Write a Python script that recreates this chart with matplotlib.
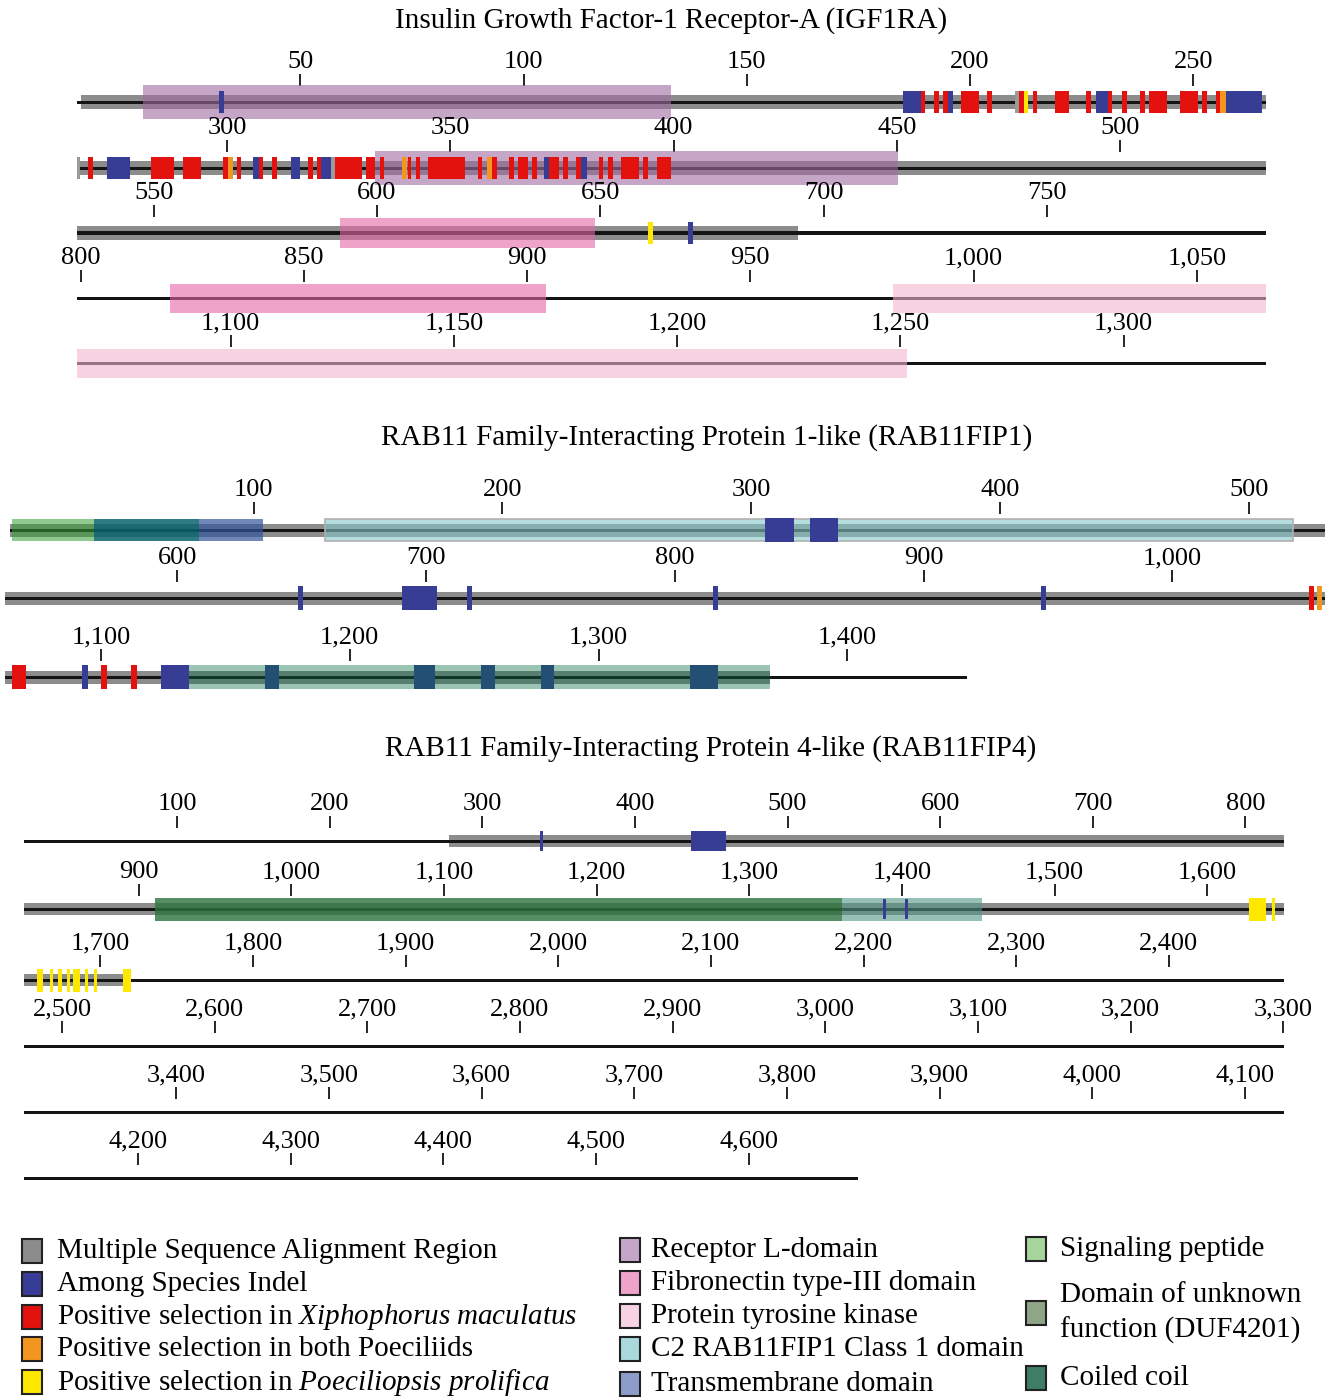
import numpy as np
import matplotlib
matplotlib.use("Agg")
import matplotlib.pyplot as plt
from matplotlib.patches import Rectangle
from matplotlib.colors import to_rgb
from matplotlib.ticker import FuncFormatter

plt.rcParams['font.family'] = 'Liberation Serif'
plt.rcParams['mathtext.fontset'] = 'custom'
plt.rcParams['mathtext.rm'] = 'Liberation Serif'
plt.rcParams['mathtext.it'] = 'Liberation Serif:italic'

W, H = 1335, 1400

# site / region colours
GRAY = '#8c8c8c'
BLUE = '#373c95'
RED = '#e3120f'
ORANGE = '#f3961f'
YELLOW = '#ffe800'
LINE = '#141414'

# ---- IGF1RA (residue intervals) ----
igf_length = 1332
igf_msa = [(1.0, 694.3)]
igf_receptor_l = [(14.8, 133.0), (333.1, 450.3)]
igf_fibronectin = [(591.7, 648.8), (820.0, 904.2)]
igf_kinase = [(982.0, 1251.5)]
igf_msa_marks = [(266.2, 267.1), (210.0, 211.0), (323.2, 324.2)]
igf_indel = [(31.8, 32.9), (185.1, 189.0), (195.1, 196.2), (228.2, 231.0), (257.3, 265.3),
             (273.2, 278.3), (305.9, 307.2), (314.3, 316.3), (321.0, 323.2), (371.0, 372.2),
             (379.3, 380.6), (669.6, 670.8)]
igf_xmac = [(189.0, 190.0), (191.9, 193.1), (194.0, 195.1), (197.9, 202.1), (203.9, 205.0),
            (211.0, 212.1), (214.0, 215.1), (219.0, 222.2), (226.0, 227.1), (231.0, 231.9),
            (234.0, 235.1), (238.1, 239.2), (240.0, 244.2), (247.0, 251.1), (252.0, 253.1),
            (255.0, 256.1), (268.9, 270.0), (283.0, 288.1), (290.1, 294.1), (299.0, 300.2),
            (302.2, 303.1), (307.2, 308.1), (310.0, 311.1), (318.1, 319.2), (320.1, 321.0),
            (324.2, 330.2), (331.1, 333.1), (334.3, 335.2), (340.5, 341.2), (342.3, 343.2),
            (345.1, 353.3), (356.1, 357.2), (359.4, 360.4), (363.2, 364.3), (365.2, 367.3),
            (368.2, 369.4), (372.2, 374.4), (375.3, 376.3), (378.2, 379.3), (383.3, 384.3),
            (385.3, 386.4), (388.2, 392.3), (393.1, 394.2), (396.2, 399.4)]
igf_both = [(256.1, 257.3), (300.2, 301.3), (339.3, 340.4), (358.3, 359.4)]
igf_ppro = [(212.1, 213.1), (660.7, 661.8)]

# ---- RAB11FIP1 ----
fip1_length = 1448
fip1_line_start = 2
fip1_msa = [(2.0, 1369.0)]
fip1_signal = [(2.9, 35.9)]
fip1_overlap = [(35.9, 78.1)]
fip1_transmembrane = [(78.1, 103.8)]
fip1_c2 = [(128.6, 517.8)]
fip1_coiled = [(1135.5, 1369.0)]
fip1_indel = [(305.5, 317.0), (323.6, 335.0), (648.5, 650.5), (690.3, 704.4), (716.4, 718.4),
              (815.3, 817.3), (947.2, 949.2), (1092.2, 1094.6), (1124.1, 1135.5),
              (1165.9, 1171.5), (1226.0, 1234.3), (1252.8, 1258.4), (1276.9, 1282.1),
              (1336.8, 1348.2)]
fip1_xmac = [(1054.9, 1056.9), (1064.3, 1069.7), (1100.0, 1102.5), (1112.1, 1114.6)]
fip1_both = [(1058.0, 1060.0)]

# ---- RAB11FIP4 ----
fip4_length = 4671.6
fip4_msa = [(278.2, 1718.3)]
fip4_coiled = [(910.7, 1360.7)]
fip4_duf = [(1360.7, 1452.4)]
fip4_indel = [(337.8, 339.8), (436.7, 459.6), (1387.5, 1389.5), (1401.9, 1403.9)]
fip4_ppro = [(1627.6, 1638.5), (1642.5, 1644.6), (1658.3, 1662.7), (1667.0, 1668.8),
             (1672.5, 1674.7), (1678.0, 1680.1), (1682.3, 1686.7), (1690.0, 1692.2),
             (1695.9, 1698.0), (1714.7, 1719.9)]

fig = plt.figure(figsize=(W / 100, H / 100), dpi=100)


# box colour that looks like `hexc` over white when drawn with alpha a
def through(hexc, a):
    rgb = np.array(to_rgb(hexc))
    return tuple(np.clip((rgb - (1 - a)) / a, 0, 1)) + (a,)


def make_rows(x0, ppr, row_len, row_y, off, length, step):
    rows = []
    for i, yc in enumerate(row_y):
        rs, re = i * row_len, (i + 1) * row_len
        ax = fig.add_axes([x0 / W, 1 - (yc + off) / H, row_len * ppr / W, 2 * off / H])
        ax.set_xlim(rs, re)
        ax.set_ylim(-off, off)
        ticks = np.arange(step, length + 1, step)
        ax.set_xticks(ticks[(ticks > rs) & (ticks <= re)])
        ax.xaxis.set_major_formatter(FuncFormatter(lambda v, p: f'{int(round(v)):,}'))
        ax.xaxis.tick_top()
        ax.tick_params(axis='x', length=8.5, width=1.2, pad=0.5, labelsize=19)
        ax.set_yticks([])
        for s in ax.spines.values():
            s.set_visible(False)
        ax.patch.set_visible(False)
        rows.append((ax, rs, re))
    return rows


def spans(rows, ivs, h, fc, z, ec='none', lw=0):
    for s, e in ivs:
        for ax, rs, re in rows:
            a, b = max(s, rs), min(e, re)
            if b > a:
                ax.add_patch(Rectangle((a, -h / 2), b - a, h, facecolor=fc, edgecolor=ec,
                                       lw=lw, zorder=z, clip_on=False))


# ---------- IGF1RA ----------
fig.text(671 / W, 1 - 21 / H, 'Insulin Growth Factor-1 Receptor-A (IGF1RA)',
         ha='center', va='center', fontsize=21)
rows = make_rows(77, 4.465, 266.4, [102, 168, 233, 298, 363], 16, igf_length, 50)
spans(rows, igf_msa, 14, GRAY, 1)
spans(rows, [(0, igf_length)], 3, LINE, 2)
spans(rows, igf_receptor_l, 34, through('#c6a6c8', 0.6), 3)
spans(rows, igf_fibronectin, 29, through('#f0a3c9', 0.6), 3)
spans(rows, igf_kinase, 29, through('#f7d3e1', 0.6), 3)
spans(rows, igf_msa_marks, 22, '#9a9a9a', 4)
spans(rows, igf_indel, 22, BLUE, 4)
spans(rows, igf_xmac, 22, RED, 4)
spans(rows, igf_both, 22, ORANGE, 4)
spans(rows, igf_ppro, 22, YELLOW, 4)

# ---------- RAB11FIP1 ----------
fig.text(707 / W, 1 - 438 / H, 'RAB11 Family-Interacting Protein 1-like (RAB11FIP1)',
         ha='center', va='center', fontsize=21)
rows = make_rows(5, 2.4875, 530.7, [530, 598, 677], 16, fip1_length, 100)
spans(rows, fip1_msa, 13, GRAY, 1)
spans(rows, [(fip1_line_start, fip1_length)], 3, LINE, 2)
spans(rows, fip1_signal, 22, through('#8fc98d', 0.55), 3)
spans(rows, fip1_overlap, 22, through('#2e7b83', 0.85), 3)
spans(rows, fip1_transmembrane, 22, through('#7087b9', 0.7), 3)
spans(rows, fip1_c2, 22, through('#b6dcde', 0.6), 3, ec='#b0b0b0', lw=1.2)
spans(rows, fip1_indel, 24, BLUE, 4)
spans(rows, fip1_xmac, 24, RED, 4)
spans(rows, fip1_both, 24, ORANGE, 4)
spans(rows, fip1_coiled, 23, through('#9bc4b5', 0.4), 5)

# ---------- RAB11FIP4 ----------
fig.text(711 / W, 1 - 749 / H, 'RAB11 Family-Interacting Protein 4-like (RAB11FIP4)',
         ha='center', va='center', fontsize=21)
rows = make_rows(24.3, 1.5265, 825.1, [841, 909, 980, 1046, 1112, 1178], 13, fip4_length, 100)
spans(rows, fip4_msa, 12, GRAY, 1)
spans(rows, [(0, fip4_length)], 3, LINE, 2)
spans(rows, fip4_coiled, 23, through('#558e64', 0.8), 3)
spans(rows, fip4_duf, 23, through('#96c0b6', 0.6), 3)
spans(rows, fip4_indel, 20, BLUE, 4)
spans(rows, fip4_ppro, 23, YELLOW, 4)

# ---------- legend ----------
leg = fig.add_axes([0, 0, 1, 1])
leg.set_xlim(0, W)
leg.set_ylim(H, 0)
leg.axis('off')

legend_cols = [
    (22, 57, [(1251, GRAY, 'Multiple Sequence Alignment Region'),
              (1284, BLUE, 'Among Species Indel'),
              (1317, RED, r'Positive selection in $\mathit{Xiphophorus\ maculatus}$'),
              (1349, ORANGE, 'Positive selection in both Poeciliids'),
              (1382, YELLOW, r'Positive selection in $\mathit{Poeciliopsis\ prolifica}$')]),
    (620, 651, [(1250, '#c6a6c8', 'Receptor L-domain'),
                (1283, '#f0a3c9', 'Fibronectin type-III domain'),
                (1316, '#f7d3e1', 'Protein tyrosine kinase'),
                (1349, '#a9d9dc', 'C2 RAB11FIP1 Class 1 domain'),
                (1384, '#8e9ccb', 'Transmembrane domain')]),
    (1026, 1060, [(1249, '#a5d59c', 'Signaling peptide'),
                  (1313, '#8fa587', 'Domain of unknown\nfunction (DUF4201)'),
                  (1378, '#3f7e64', 'Coiled coil')]),
]
for sx, tx, items in legend_cols:
    for y, c, lab in items:
        leg.add_patch(Rectangle((sx, y - 12), 20, 24, facecolor=c, edgecolor='#222222', lw=1.5))
        leg.text(tx, y, lab, ha='left', va='center', fontsize=21, linespacing=1.38)

fig.savefig('out.png', dpi=100)
